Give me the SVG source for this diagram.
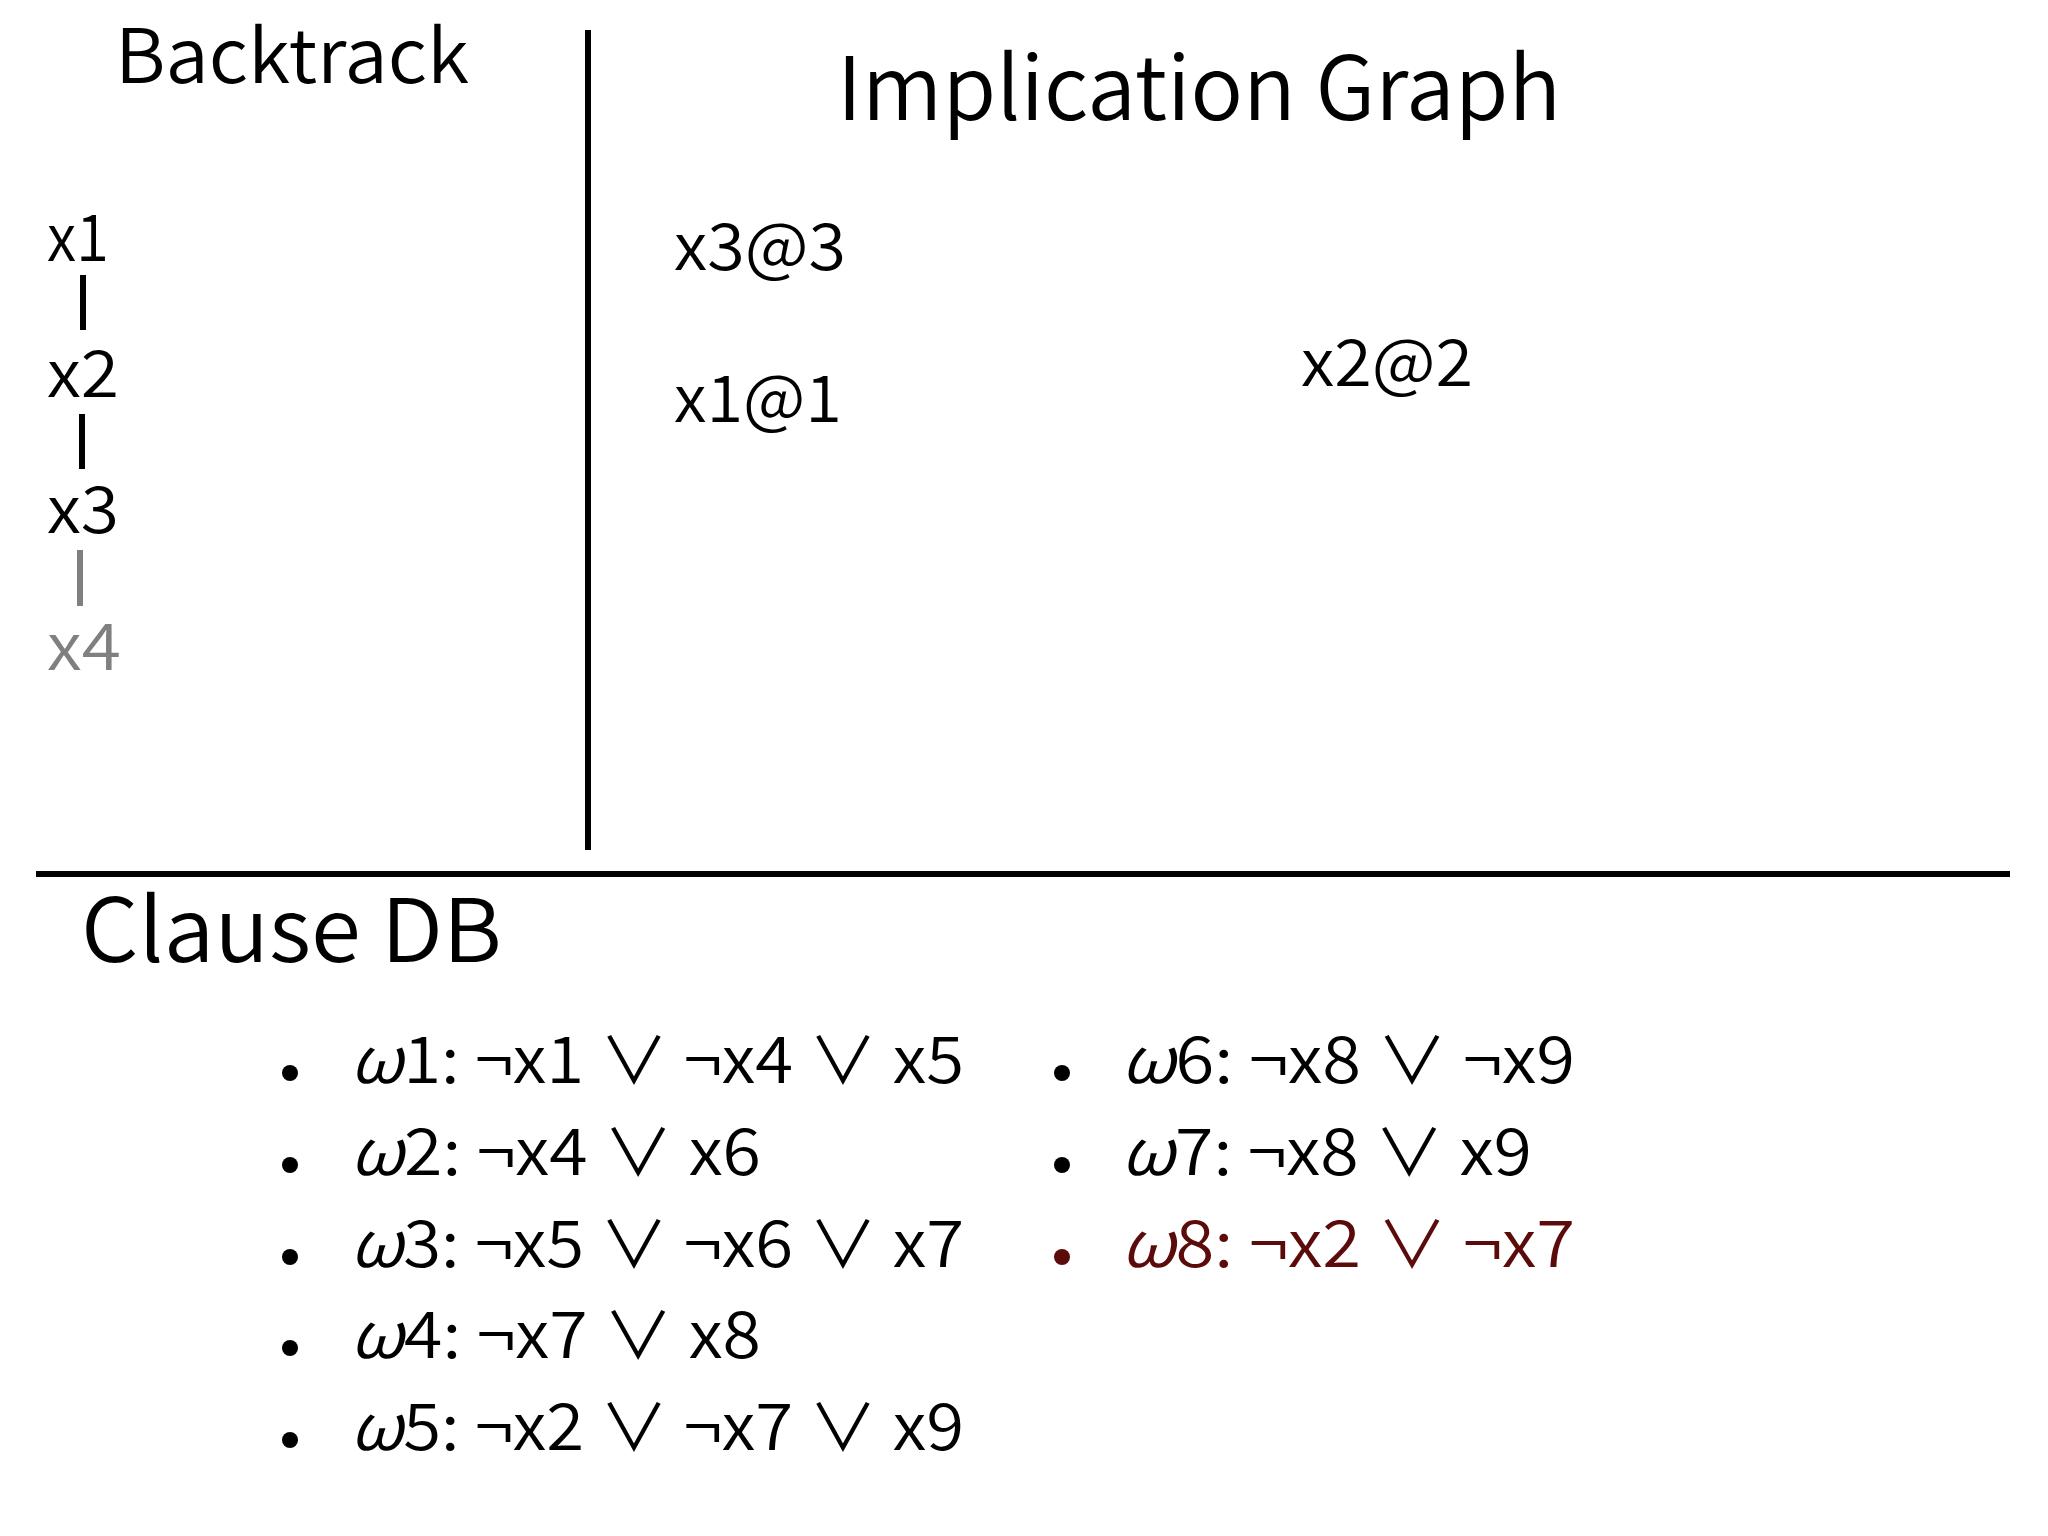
<svg xmlns="http://www.w3.org/2000/svg" width="2048" height="1536" viewBox="0 0 2048 1536">
<style>
text{font-family:"Noto Sans CJK JP","Noto Sans",sans-serif;font-weight:350;fill:#000}
.title{font-size:75px}
.big{font-size:88px}
.lbl{font-size:65px}
.item{font-size:64px}
.gray{fill:#808080}
.red{fill:#5c0b0b}
.w{font-style:italic}
.rule{stroke:#000;stroke-width:6;fill:none}
.bar{stroke:#000;stroke-width:6}
.bar.g{stroke:#808080}
</style>
<rect width="2048" height="1536" fill="#fff"/>
<g id="dividers">
<line class="rule" x1="588" y1="30" x2="588" y2="850"/>
<line class="rule" x1="36" y1="874" x2="2010" y2="874"/>
</g>
<g id="titles">
<text class="title" x="115" y="83" textLength="354" lengthAdjust="spacingAndGlyphs">Backtrack</text>
<text class="big" x="837" y="120" textLength="724" lengthAdjust="spacingAndGlyphs">Implication Graph</text>
<text class="big" x="81" y="962" textLength="421" lengthAdjust="spacingAndGlyphs">Clause DB</text>
</g>
<g id="connectors">
<line class="bar" x1="83" y1="275" x2="83" y2="330"/>
<line class="bar" x1="82" y1="414" x2="82" y2="469"/>
<line class="bar g" x1="80" y1="550" x2="80" y2="606"/>
</g>
<g id="bt-x1"><text class="lbl" x="47" y="261" textLength="62" lengthAdjust="spacingAndGlyphs">x1</text></g>
<g id="bt-x2"><text class="lbl" x="47" y="397" textLength="72" lengthAdjust="spacingAndGlyphs">x2</text></g>
<g id="bt-x3"><text class="lbl" x="47" y="533" textLength="72" lengthAdjust="spacingAndGlyphs">x3</text></g>
<g id="bt-x4"><text class="lbl gray" x="47" y="670" textLength="74" lengthAdjust="spacingAndGlyphs">x4</text></g>
<g id="ig-x3"><text class="lbl" x="674" y="270" textLength="172" lengthAdjust="spacingAndGlyphs">x3@3</text></g>
<g id="ig-x1"><text class="lbl" x="674" y="422" textLength="168" lengthAdjust="spacingAndGlyphs">x1@1</text></g>
<g id="ig-x2"><text class="lbl" x="1301" y="386" textLength="172" lengthAdjust="spacingAndGlyphs">x2@2</text></g>
<g id="clauses">
<g id="c1"><circle cx="290" cy="1073" r="8"/><text class="item" x="350" y="1083" textLength="614" lengthAdjust="spacingAndGlyphs"><tspan class="w">ω</tspan>1: ¬x1 ∨ ¬x4 ∨ x5</text></g>
<g id="c2"><circle cx="290" cy="1165" r="8"/><text class="item" x="350" y="1175" textLength="411" lengthAdjust="spacingAndGlyphs"><tspan class="w">ω</tspan>2: ¬x4 ∨ x6</text></g>
<g id="c3"><circle cx="290" cy="1257" r="8"/><text class="item" x="350" y="1267" textLength="614" lengthAdjust="spacingAndGlyphs"><tspan class="w">ω</tspan>3: ¬x5 ∨ ¬x6 ∨ x7</text></g>
<g id="c4"><circle cx="290" cy="1348" r="8"/><text class="item" x="350" y="1358" textLength="411" lengthAdjust="spacingAndGlyphs"><tspan class="w">ω</tspan>4: ¬x7 ∨ x8</text></g>
<g id="c5"><circle cx="290" cy="1440" r="8"/><text class="item" x="350" y="1450" textLength="614" lengthAdjust="spacingAndGlyphs"><tspan class="w">ω</tspan>5: ¬x2 ∨ ¬x7 ∨ x9</text></g>
<g id="c6"><circle cx="1062" cy="1073" r="8"/><text class="item" x="1121" y="1083" textLength="454" lengthAdjust="spacingAndGlyphs"><tspan class="w">ω</tspan>6: ¬x8 ∨ ¬x9</text></g>
<g id="c7"><circle cx="1062" cy="1165" r="8"/><text class="item" x="1121" y="1175" textLength="411" lengthAdjust="spacingAndGlyphs"><tspan class="w">ω</tspan>7: ¬x8 ∨ x9</text></g>
<g id="c8"><circle cx="1062" cy="1257" r="8" fill="#5c0b0b"/><text class="item red" x="1121" y="1267" textLength="454" lengthAdjust="spacingAndGlyphs"><tspan class="w">ω</tspan>8: ¬x2 ∨ ¬x7</text></g>
</g>
</svg>
